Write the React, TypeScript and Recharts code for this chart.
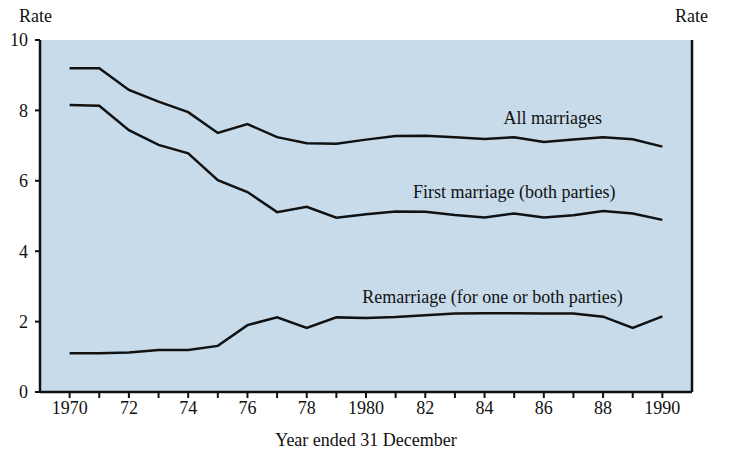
import React from "react";
import {
  LineChart,
  Line,
  XAxis,
  YAxis,
  CartesianGrid,
  ReferenceDot,
} from "recharts";

const years = [
  1970, 1971, 1972, 1973, 1974, 1975, 1976, 1977, 1978, 1979, 1980, 1981,
  1982, 1983, 1984, 1985, 1986, 1987, 1988, 1989, 1990,
];
const allMarriages = [
  9.2, 9.2, 8.58, 8.25, 7.95, 7.36, 7.61, 7.24, 7.07, 7.05, 7.17, 7.27, 7.28,
  7.24, 7.19, 7.24, 7.1, 7.17, 7.24, 7.18, 6.97,
];
const firstMarriage = [
  8.15, 8.13, 7.44, 7.02, 6.78, 6.02, 5.68, 5.11, 5.26, 4.95, 5.05, 5.13, 5.12,
  5.03, 4.96, 5.07, 4.96, 5.02, 5.14, 5.07, 4.89,
];
const remarriage = [
  1.1, 1.1, 1.12, 1.19, 1.19, 1.31, 1.9, 2.12, 1.82, 2.12, 2.1, 2.13, 2.18,
  2.23, 2.24, 2.24, 2.23, 2.23, 2.14, 1.82, 2.15,
];
const yTicks = [0, 2, 4, 6, 8, 10];

// line labels: [text, year, rate]
const seriesLabels: [string, number, number][] = [
  ["All marriages", 1986.3, 7.8],
  ["First marriage (both parties)", 1985.0, 5.7],
  ["Remarriage (for one or both parties)", 1984.27, 2.7],
];

const data = years.map((year, i) => ({
  year,
  all: allMarriages[i],
  first: firstMarriage[i],
  re: remarriage[i],
}));

const FONT = "'Liberation Serif', 'DejaVu Serif', serif";
const INK = "#111";

const fmtYear = (y: number) => {
  if (y % 10 === 0) return String(y);
  if (y % 2 === 0) return String(y).slice(2);
  return "";
};

export default function App() {
  const tickStyle = { fill: INK, fontSize: 18, fontFamily: FONT };
  return (
    <div
      style={{
        position: "absolute",
        left: 0,
        top: 0,
        width: 732,
        height: 452,
        background: "#fff",
        fontFamily: FONT,
      }}
    >
      <div style={{ position: "absolute", left: 19, top: 6, fontSize: 18, color: INK }}>
        Rate
      </div>
      <div style={{ position: "absolute", left: 675, top: 6, fontSize: 18, color: INK }}>
        Rate
      </div>
      <LineChart
        width={732}
        height={452}
        data={data}
        margin={{ top: 40, right: 0, bottom: 0, left: 0 }}
      >
        <CartesianGrid
          horizontal={false}
          vertical={false}
          fill="#c7dbea"
          stroke="none"
        />
        <XAxis
          dataKey="year"
          type="number"
          domain={[1969, 1991]}
          ticks={years}
          interval={0}
          tickFormatter={fmtYear}
          height={60}
          tickSize={6}
          tickMargin={3}
          tick={tickStyle}
          axisLine={{ stroke: INK, strokeWidth: 2.5 }}
          tickLine={{ stroke: INK, strokeWidth: 2 }}
          label={{
            value: "Year ended 31 December",
            position: "insideBottom",
            offset: 6,
            fill: INK,
            fontSize: 18,
            fontFamily: FONT,
          }}
        />
        <YAxis
          yAxisId="left"
          domain={[0, 10]}
          ticks={yTicks}
          width={40}
          tickSize={5}
          tickMargin={7}
          tick={tickStyle}
          axisLine={{ stroke: INK, strokeWidth: 2.5 }}
          tickLine={{ stroke: INK, strokeWidth: 2 }}
        />
        <YAxis
          yAxisId="right"
          orientation="right"
          domain={[0, 10]}
          ticks={yTicks}
          width={40}
          tickSize={5}
          tickMargin={5}
          tick={tickStyle}
          axisLine={{ stroke: INK, strokeWidth: 2.5 }}
          tickLine={{ stroke: INK, strokeWidth: 2 }}
        />
        {["all", "first", "re"].map((key) => (
          <Line
            key={key}
            yAxisId="left"
            type="linear"
            dataKey={key}
            stroke={INK}
            strokeWidth={2.5}
            dot={false}
            activeDot={false}
            isAnimationActive={false}
          />
        ))}
        {seriesLabels.map(([text, x, y]) => (
          <ReferenceDot
            key={text}
            yAxisId="left"
            x={x}
            y={y}
            r={0}
            fill="none"
            stroke="none"
            label={{
              value: text,
              position: "center",
              fill: INK,
              fontSize: 18,
              fontFamily: FONT,
            }}
          />
        ))}
      </LineChart>
    </div>
  );
}
